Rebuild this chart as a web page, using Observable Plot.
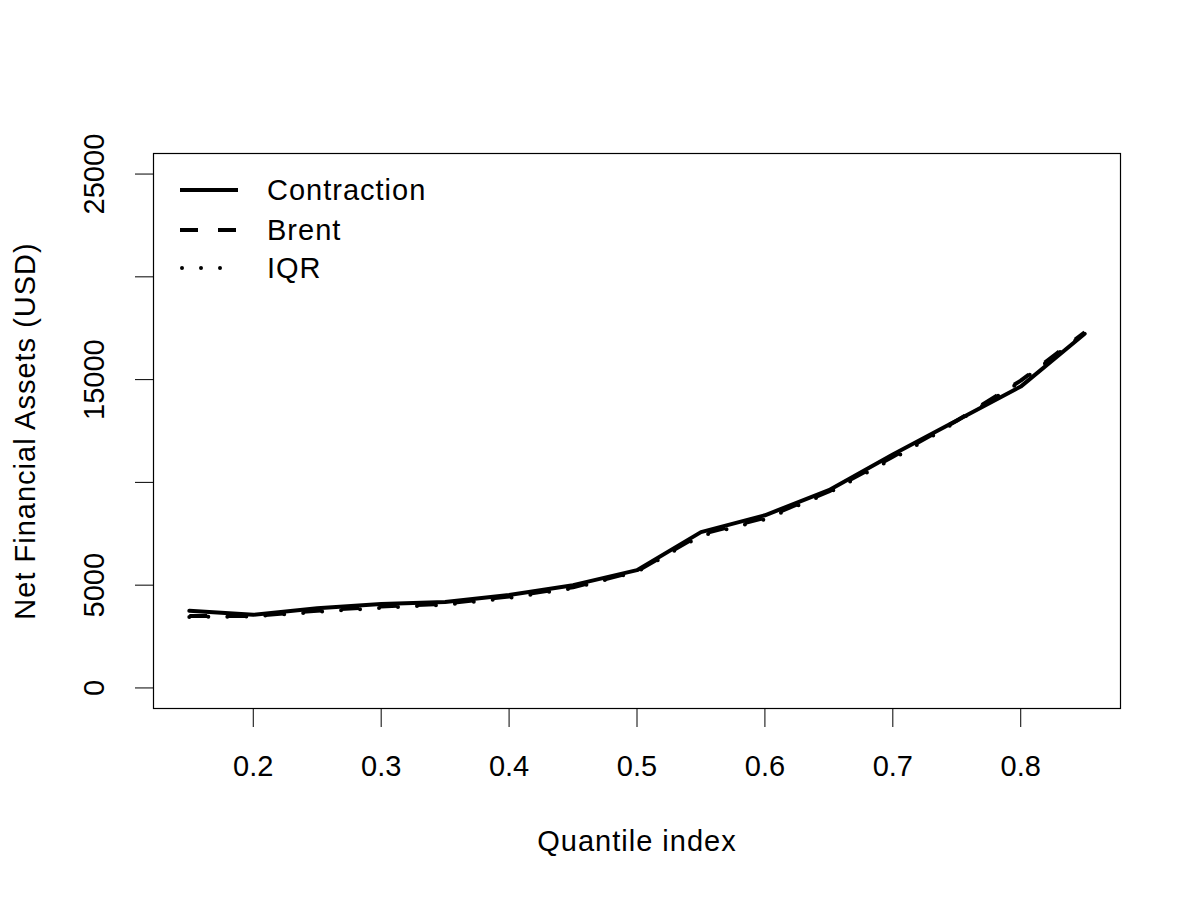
<!DOCTYPE html>
<html>
<head>
<meta charset="utf-8">
<script src="https://cdn.jsdelivr.net/npm/d3@7"></script>
<script src="https://cdn.jsdelivr.net/npm/@observablehq/plot@0.6"></script>
<style>
  html, body { margin: 0; padding: 0; background: #fff; }
  #wrap { position: relative; width: 1200px; height: 900px; font-family: "Liberation Sans", Arial, Helvetica, sans-serif; }
  #legend { position: absolute; left: 0; top: 0; pointer-events: none; }
  .wide text { letter-spacing: 1px; }
</style>
</head>
<body>
<div id="wrap"></div>
<script>
const quantiles = [0.15, 0.2, 0.25, 0.3, 0.35, 0.4, 0.45, 0.5, 0.55, 0.6, 0.65, 0.7, 0.75, 0.8, 0.85];
const contraction = [3750, 3560, 3880, 4080, 4180, 4520, 5000, 5730, 7580, 8400, 9620, 11360, 13010, 14660, 17230];
const brent =       [3500, 3500, 3760, 3960, 4100, 4450, 4900, 5680, 7480, 8280, 9560, 11250, 13000, 14950, 17300];
const iqr =         [3450, 3480, 3700, 3900, 4050, 4380, 4850, 5650, 7400, 8200, 9500, 11150, 12950, 14900, 17250];
const seriesNames = ["Contraction", "Brent", "IQR"];
const xTicks = [0.2, 0.3, 0.4, 0.5, 0.6, 0.7, 0.8];
const yTicks = [0, 5000, 10000, 15000, 20000, 25000];
const yTickLabels = [0, 5000, 15000, 25000];
const xTitle = "Quantile index";
const yTitle = "Net Financial Assets (USD)";

const toRows = vals => quantiles.map((q, i) => ({q, v: vals[i]}));
const font = "Liberation Sans, Arial, Helvetica, sans-serif";
const fs = 29;

const chart = Plot.plot({
  width: 1200,
  height: 900,
  marginLeft: 153,
  marginRight: 80,
  marginTop: 153,
  marginBottom: 192,
  style: {fontFamily: font, fontSize: fs + "px", background: "white", color: "black"},
  x: {domain: [0.122, 0.878]},
  y: {domain: [-1000, 26000]},
  marks: [
    Plot.frame({stroke: "black", strokeWidth: 1.2}),
    Plot.axisX({ticks: xTicks, tickSize: 19, tickPadding: 28, tickFormat: d => d.toFixed(1), fontSize: fs, label: null, stroke: "black"}),
    Plot.axisY({ticks: yTicks, tickSize: 18, tickFormat: () => "", label: null, stroke: "black"}),
    Plot.text(yTickLabels, {y: d => d, frameAnchor: "left", dx: -59, rotate: -90, text: d => String(d), fontSize: fs, textAnchor: "middle", lineAnchor: "middle", fill: "black"}),
    Plot.text([xTitle], {frameAnchor: "bottom", dy: 133, text: d => d, fontSize: fs, textAnchor: "middle", lineAnchor: "middle", fill: "black", className: "wide"}),
    Plot.text([yTitle], {frameAnchor: "left", dx: -128, rotate: -90, text: d => d, fontSize: fs, textAnchor: "middle", lineAnchor: "middle", fill: "black", className: "wide"}),
    Plot.line(toRows(contraction), {x: "q", y: "v", stroke: "black", strokeWidth: 4, strokeLinejoin: "round", strokeLinecap: "round"}),
    Plot.line(toRows(brent), {x: "q", y: "v", stroke: "black", strokeWidth: 4, strokeDasharray: "18,20", strokeLinecap: "butt"}),
    Plot.line(toRows(iqr), {x: "q", y: "v", stroke: "black", strokeWidth: 4, strokeDasharray: "0,19", strokeLinecap: "round"})
  ]
});
document.getElementById("wrap").appendChild(chart);

// Legend overlay (inside plot, top-left)
const ns = "http://www.w3.org/2000/svg";
const leg = document.createElementNS(ns, "svg");
leg.setAttribute("id", "legend");
leg.setAttribute("width", 1200);
leg.setAttribute("height", 900);
const styles = [
  {dash: null, cap: "butt"},
  {dash: "18,20", cap: "butt"},
  {dash: "0,19", cap: "round"}
];
const rowY = [190, 230, 268];
seriesNames.forEach((name, i) => {
  const ln = document.createElementNS(ns, "line");
  ln.setAttribute("x1", i === 2 ? 182 : 180);
  ln.setAttribute("x2", 238);
  ln.setAttribute("y1", rowY[i]);
  ln.setAttribute("y2", rowY[i]);
  ln.setAttribute("stroke", "black");
  ln.setAttribute("stroke-width", 4);
  ln.setAttribute("stroke-linecap", styles[i].cap);
  if (styles[i].dash) ln.setAttribute("stroke-dasharray", styles[i].dash);
  leg.appendChild(ln);
  const t = document.createElementNS(ns, "text");
  t.setAttribute("x", 267);
  t.setAttribute("y", rowY[i]);
  t.setAttribute("dy", "0.36em");
  t.setAttribute("font-family", font);
  t.setAttribute("font-size", fs);
  t.setAttribute("letter-spacing", "1px");
  t.setAttribute("fill", "black");
  t.textContent = name;
  leg.appendChild(t);
});
document.getElementById("wrap").appendChild(leg);
</script>
</body>
</html>
